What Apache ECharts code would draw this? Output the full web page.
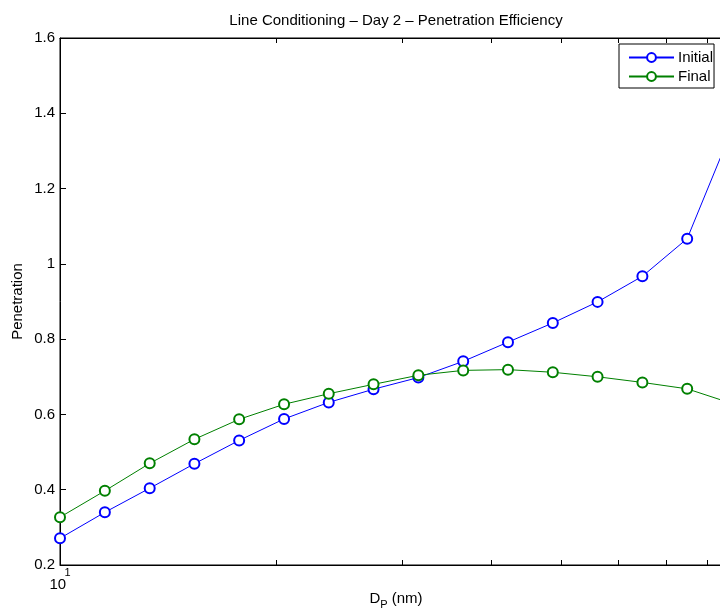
<!DOCTYPE html>
<html>
<head>
<meta charset="utf-8">
<title>Line Conditioning – Day 2 – Penetration Efficiency</title>
<script src="https://cdn.jsdelivr.net/npm/echarts@6/dist/echarts.min.js"></script>
<style>
  html, body { margin: 0; padding: 0; overflow: hidden; background: #fff; }
  #chart { width: 792px; height: 609px; }
</style>
</head>
<body>
<div id="chart"></div>
<script>
// Particle diameter bins (nm), 16 channels per decade
var diameters = [10.00, 11.55, 13.34, 15.40, 17.78, 20.54, 23.71, 27.38,
                 31.62, 36.52, 42.17, 48.70, 56.23, 64.94, 74.99, 86.60];

// Penetration before and after line conditioning
var initialPen = [0.271, 0.340, 0.404, 0.469, 0.531, 0.588, 0.632, 0.667,
                  0.698, 0.741, 0.792, 0.843, 0.899, 0.967, 1.067, 1.357];
var finalPen   = [0.327, 0.397, 0.470, 0.534, 0.587, 0.627, 0.655, 0.680,
                  0.704, 0.717, 0.719, 0.712, 0.700, 0.685, 0.668, 0.629];

var seriesNames = ['Initial', 'Final'];
var seriesColors = ['#0000ff', '#008000'];

// Minor log ticks within the decade, and the labelled decade
var xTickValues = [10, 20, 30, 40, 50, 60, 70, 80];
var xLabelValues = [10];

var yMin = 0.2, yMax = 1.6, yStep = 0.2;

var FONT = '"Liberation Sans", Arial, Helvetica, sans-serif';

function pairs(xs, ys) {
  return xs.map(function (x, i) { return [x, ys[i]]; });
}

var xMin = Math.min.apply(null, diameters);
var xMax = Math.max.apply(null, diameters);

var chart = echarts.init(document.getElementById('chart'), null, { renderer: 'canvas' });

var axisLineStyle = { color: '#000', width: 1 };

chart.setOption({
  animation: false,
  backgroundColor: '#fff',
  textStyle: { fontFamily: FONT },
  title: {
    text: 'Line Conditioning – Day 2 – Penetration Efficiency',
    left: 'center',
    top: 8,
    textStyle: { fontFamily: FONT, fontSize: 15, fontWeight: 'normal', color: '#000' }
  },
  legend: {
    orient: 'vertical',
    left: 619,
    top: 44,
    data: seriesNames,
    itemWidth: 45,
    itemHeight: 11,
    itemGap: 4,
    padding: [6, 1, 4, 9],
    borderColor: '#000',
    borderWidth: 1,
    backgroundColor: '#fff',
    textStyle: { fontFamily: FONT, fontSize: 15, color: '#000', padding: [0, 0, 0, -1] }
  },
  grid: {
    left: 60,
    width: 672,
    top: 38,
    height: 527,
    outerBoundsMode: 'none',
    containLabel: false,
    show: true,
    borderColor: '#000',
    borderWidth: 1,
    backgroundColor: '#fff'
  },
  xAxis: [
    {
      type: 'log',
      position: 'bottom',
      min: xMin,
      max: xMax,
      name: '{a|D}{s|P}{a| (nm)}',
      nameLocation: 'middle',
      nameGap: 26,
      nameMoveOverlap: false,
      nameTextStyle: {
        rich: {
          a: { fontFamily: FONT, fontSize: 15, color: '#000', lineHeight: 15, verticalAlign: 'top' },
          s: { fontFamily: FONT, fontSize: 11, color: '#000', lineHeight: 19, verticalAlign: 'bottom' }
        }
      },
      axisLine: { show: true, lineStyle: axisLineStyle },
      axisTick: { show: true, inside: true, length: 5, customValues: xTickValues, lineStyle: axisLineStyle },
      minorTick: { show: false },
      splitLine: { show: false },
      axisLabel: {
        show: true,
        customValues: xLabelValues,
        showMinLabel: true,
        margin: 4,
        formatter: function (v) {
          var e = Math.round(Math.log10(v));
          return '{e|' + e + '}\n{b|10}';
        },
        rich: {
          e: { fontFamily: FONT, fontSize: 11, color: '#000', lineHeight: 8, width: 21, align: 'right' },
          b: { fontFamily: FONT, fontSize: 15, color: '#000', lineHeight: 15, width: 21, align: 'left' }
        }
      }
    },
    {
      type: 'log',
      position: 'top',
      min: xMin,
      max: xMax,
      axisLine: { show: true, lineStyle: axisLineStyle },
      axisTick: { show: true, inside: true, length: 5, customValues: xTickValues, lineStyle: axisLineStyle },
      splitLine: { show: false },
      axisLabel: { show: false }
    }
  ],
  yAxis: [
    {
      type: 'value',
      position: 'left',
      min: yMin,
      max: yMax,
      interval: yStep,
      name: 'Penetration',
      nameLocation: 'middle',
      nameGap: 35,
      nameMoveOverlap: false,
      nameTextStyle: { fontFamily: FONT, fontSize: 15, color: '#000' },
      axisLine: { show: true, lineStyle: axisLineStyle },
      axisTick: { show: true, inside: true, length: 6, lineStyle: axisLineStyle },
      splitLine: { show: false },
      axisLabel: {
        margin: 5,
        fontFamily: FONT,
        fontSize: 15,
        color: '#000',
        formatter: function (v) { return String(Math.round(v * 10) / 10); }
      }
    },
    {
      type: 'value',
      position: 'right',
      min: yMin,
      max: yMax,
      interval: yStep,
      axisLine: { show: true, lineStyle: axisLineStyle },
      axisTick: { show: true, inside: true, length: 6, lineStyle: axisLineStyle },
      splitLine: { show: false },
      axisLabel: { show: false }
    }
  ],
  series: [initialPen, finalPen].map(function (vals, i) {
    return {
      name: seriesNames[i],
      type: 'line',
      xAxisIndex: 0,
      yAxisIndex: 0,
      data: pairs(diameters, vals),
      symbol: 'emptyCircle',
      symbolSize: 10,
      showAllSymbol: true,
      lineStyle: { color: seriesColors[i], width: 1 },
      itemStyle: { color: seriesColors[i], borderColor: seriesColors[i], borderWidth: 1 },
      emphasis: { disabled: true },
      clip: true,
      z: 3 + i
    };
  })
});
</script>
</body>
</html>
